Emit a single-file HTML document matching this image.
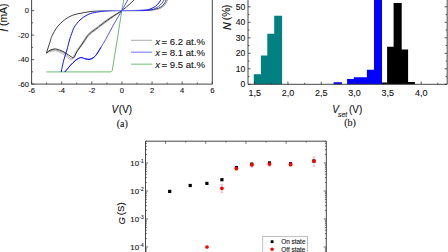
<!DOCTYPE html>
<html><head><meta charset="utf-8"><style>
html,body{margin:0;padding:0;background:#fff;width:448px;height:252px;overflow:hidden}
svg{display:block}
text{font-family:"Liberation Sans", sans-serif;fill:#111;stroke:#111;stroke-width:0.1px}
</style></head><body>
<svg width="448" height="252" viewBox="0 0 448 252">
<defs>
<linearGradient id="gb" gradientUnits="userSpaceOnUse" x1="0" y1="0" x2="448" y2="0">
<stop offset="0.2" stop-color="#0000ff"/><stop offset="0.215" stop-color="#0000ff"/><stop offset="0.245" stop-color="#5050ff"/><stop offset="0.27" stop-color="#8080ff"/><stop offset="0.295" stop-color="#6060ff"/><stop offset="0.32" stop-color="#2020ff"/><stop offset="0.34" stop-color="#0000ff"/>
</linearGradient>
<linearGradient id="gk" gradientUnits="userSpaceOnUse" x1="0" y1="0" x2="448" y2="0">
<stop offset="0.2" stop-color="#2a2a2a"/><stop offset="0.225" stop-color="#555"/><stop offset="0.265" stop-color="#999"/><stop offset="0.3" stop-color="#999"/><stop offset="0.33" stop-color="#777"/><stop offset="0.35" stop-color="#333"/>
</linearGradient>
</defs>
<path d="M31.6,-2 V84.1 H212.3 V-2" fill="none" stroke="#333" stroke-width="0.9"/>
<path d="M31.59,84.1 v-2.6 M46.65,84.1 v-1.5 M61.71,84.1 v-2.6 M76.77,84.1 v-1.5 M91.83,84.1 v-2.6 M106.89,84.1 v-1.5 M121.95,84.1 v-2.6 M137.01,84.1 v-1.5 M152.07,84.1 v-2.6 M167.13,84.1 v-1.5 M182.19,84.1 v-2.6 M197.25,84.1 v-1.5 M212.31,84.1 v-2.6 M31.6,84.10 h2.6 M31.6,71.85 h1.5 M31.6,59.60 h2.6 M31.6,47.35 h1.5 M31.6,35.10 h2.6 M31.6,22.85 h1.5 M31.6,10.60 h2.6 M31.6,-1.65 h1.5 M31.6,-13.90 h2.6" stroke="#333" stroke-width="0.8" fill="none"/>
<text x="28.9" y="13.30" text-anchor="end" font-size="7.6">0</text>
<text x="28.9" y="37.80" text-anchor="end" font-size="7.6">-20</text>
<text x="28.9" y="62.30" text-anchor="end" font-size="7.6">-40</text>
<text x="28.9" y="86.80" text-anchor="end" font-size="7.6">-60</text>
<text x="31.59" y="93.3" text-anchor="middle" font-size="7.6">-6</text>
<text x="61.71" y="93.3" text-anchor="middle" font-size="7.6">-4</text>
<text x="91.83" y="93.3" text-anchor="middle" font-size="7.6">-2</text>
<text x="121.95" y="93.3" text-anchor="middle" font-size="7.6">0</text>
<text x="152.07" y="93.3" text-anchor="middle" font-size="7.6">2</text>
<text x="182.19" y="93.3" text-anchor="middle" font-size="7.6">4</text>
<text x="212.31" y="93.3" text-anchor="middle" font-size="7.6">6</text>
<text transform="translate(7.6,30.4) rotate(-90)" text-anchor="middle" font-size="10.2" font-style="italic">I</text>
<text transform="translate(7.4,14.8) rotate(-90)" text-anchor="middle" font-size="10.4">(mA)</text>
<text x="111.4" y="113.1" font-size="10"><tspan font-style="italic">V</tspan><tspan dx="0.8">(V)</tspan></text>
<text x="122.3" y="126.6" text-anchor="middle" font-size="10" style="font-family:&quot;Liberation Serif&quot;,serif">(a)</text>
<path d="M46.40,71.90 L110.90,71.90 L112.20,70.60 L117.20,40.00 L121.80,10.60 L123.90,-1.00" fill="none" stroke="#4aa84a" stroke-width="0.8"/>
<path d="M121.80,10.60 C119.77,11.78 113.32,15.30 109.60,17.70 C105.88,20.10 101.60,23.45 99.50,25.00 C97.40,26.55 98.67,25.73 97.00,27.00 C95.33,28.27 91.32,31.02 89.50,32.60 C87.68,34.18 87.47,34.57 86.10,36.50 C84.73,38.43 83.02,41.72 81.30,44.20 C79.58,46.68 77.15,49.27 75.80,51.40 C74.45,53.53 73.87,55.63 73.20,57.00 C72.53,58.37 72.50,59.30 71.80,59.60 C71.10,59.90 70.13,59.48 69.00,58.80 C67.87,58.12 66.33,56.47 65.00,55.50 C63.67,54.53 62.33,53.72 61.00,53.00 C59.67,52.28 58.17,51.53 57.00,51.20 C55.83,50.87 55.17,50.93 54.00,51.00 C52.83,51.07 51.27,51.25 50.00,51.60 C48.73,51.95 47.00,52.85 46.40,53.10" fill="none" stroke="#b4b4b4" stroke-width="0.8"/>
<path d="M121.80,10.60 C119.90,11.98 113.95,16.30 110.40,18.90 C106.85,21.50 102.57,24.65 100.50,26.20 C98.43,27.75 99.63,26.93 98.00,28.20 C96.37,29.47 92.48,32.25 90.70,33.80 C88.92,35.35 88.63,35.75 87.30,37.50 C85.97,39.25 84.35,42.05 82.70,44.30 C81.05,46.55 78.77,49.02 77.40,51.00 C76.03,52.98 75.30,54.90 74.50,56.20 C73.70,57.50 73.35,58.50 72.60,58.80 C71.85,59.10 71.10,58.72 70.00,58.00 C68.90,57.28 67.33,55.50 66.00,54.50 C64.67,53.50 63.50,52.72 62.00,52.00 C60.50,51.28 58.33,50.53 57.00,50.20 C55.67,49.87 55.17,49.87 54.00,50.00 C52.83,50.13 51.27,50.48 50.00,51.00 C48.73,51.52 47.00,52.75 46.40,53.10" fill="none" stroke="#888" stroke-width="0.8"/>
<path d="M135.00,-1.00 C133.83,0.10 130.20,3.67 128.00,5.60 C125.80,7.53 124.80,8.48 121.80,10.60 C118.80,12.72 113.63,15.80 110.00,18.30 C106.37,20.80 102.08,24.05 100.00,25.60 C97.92,27.15 99.15,26.33 97.50,27.60 C95.85,28.87 91.90,31.63 90.10,33.20 C88.30,34.77 88.03,35.20 86.70,37.00 C85.37,38.80 83.62,41.75 82.10,44.00 C80.58,46.25 78.75,48.63 77.60,50.50 C76.45,52.37 75.83,54.02 75.20,55.20 C74.57,56.38 74.50,57.37 73.80,57.60 C73.10,57.83 72.30,57.32 71.00,56.60 C69.70,55.88 67.50,54.23 66.00,53.30 C64.50,52.37 63.50,51.68 62.00,51.00 C60.50,50.32 58.33,49.53 57.00,49.20 C55.67,48.87 55.17,48.83 54.00,49.00 C52.83,49.17 51.27,49.52 50.00,50.20 C48.73,50.88 47.00,52.62 46.40,53.10" fill="none" stroke="#222" stroke-width="0.9"/>
<path d="M46.40,53.10 C47.00,51.25 49.05,44.90 50.00,42.00 C50.95,39.10 50.92,38.18 52.10,35.70 C53.28,33.22 55.07,29.72 57.10,27.10 C59.13,24.48 61.78,21.95 64.30,20.00 C66.82,18.05 69.58,16.50 72.20,15.40 C74.82,14.30 77.03,14.03 80.00,13.40 C82.97,12.77 86.67,12.02 90.00,11.60 C93.33,11.18 96.67,11.05 100.00,10.90 C103.33,10.75 106.37,10.75 110.00,10.70 C113.63,10.65 116.80,10.65 121.80,10.60 C126.80,10.55 135.30,10.52 140.00,10.40 C144.70,10.28 147.33,10.13 150.00,9.90 C152.67,9.67 154.25,9.45 156.00,9.00 C157.75,8.55 159.17,8.03 160.50,7.20 C161.83,6.37 162.98,5.37 164.00,4.00 C165.02,2.63 166.17,-0.17 166.60,-1.00" fill="none" stroke="url(#gk)" stroke-width="0.9"/>
<path d="M123.10,10.90 C126.13,10.87 136.60,10.82 141.30,10.70 C146.00,10.58 148.63,10.43 151.30,10.20 C153.97,9.97 155.55,9.75 157.30,9.30 C159.05,8.85 160.47,8.33 161.80,7.50 C163.13,6.67 164.28,5.67 165.30,4.30 C166.32,2.93 167.47,0.13 167.90,-0.70" fill="none" stroke="#777" stroke-width="0.8"/>
<path d="M61.20,72.00 C61.63,70.00 62.85,63.67 63.80,60.00 C64.75,56.33 65.95,53.33 66.90,50.00 C67.85,46.67 68.70,42.75 69.50,40.00 C70.30,37.25 70.90,35.65 71.70,33.50 C72.50,31.35 72.92,29.35 74.30,27.10 C75.68,24.85 77.87,22.02 80.00,20.00 C82.13,17.98 84.72,16.23 87.10,15.00 C89.48,13.77 91.32,13.23 94.30,12.60 C97.28,11.97 100.42,11.53 105.00,11.20 C109.58,10.87 116.30,10.73 121.80,10.60 C127.30,10.47 133.80,10.52 138.00,10.40 C142.20,10.28 144.67,10.27 147.00,9.90 C149.33,9.53 150.58,8.82 152.00,8.20 C153.42,7.58 154.37,7.07 155.50,6.20 C156.63,5.33 157.83,4.20 158.80,3.00 C159.77,1.80 160.88,-0.33 161.30,-1.00" fill="none" stroke="url(#gb)" stroke-width="0.95"/>
<path d="M128.30,-1.00 C127.22,0.93 123.95,6.85 121.80,10.60 C119.65,14.35 117.25,18.27 115.40,21.50 C113.55,24.73 112.33,27.00 110.70,30.00 C109.07,33.00 107.23,36.60 105.60,39.50 C103.97,42.40 102.40,44.93 100.90,47.40 C99.40,49.87 97.88,52.57 96.60,54.30 C95.32,56.03 94.47,56.95 93.20,57.80 C91.93,58.65 90.45,59.27 89.00,59.40 C87.55,59.53 85.87,58.90 84.50,58.60 C83.13,58.30 82.27,57.33 80.80,57.60 C79.33,57.87 77.42,58.92 75.70,60.20 C73.98,61.48 71.87,63.87 70.50,65.30 C69.13,66.73 68.45,67.68 67.50,68.80 C66.55,69.92 65.25,71.47 64.80,72.00" fill="none" stroke="#1a1aff" stroke-width="0.75"/>
<path d="M100.90,47.40 C100.18,48.55 97.88,52.57 96.60,54.30 C95.32,56.03 94.47,56.95 93.20,57.80 C91.93,58.65 90.45,59.27 89.00,59.40 C87.55,59.53 85.87,58.90 84.50,58.60 C83.13,58.30 82.27,57.33 80.80,57.60 C79.33,57.87 77.42,58.92 75.70,60.20 C73.98,61.48 71.87,63.87 70.50,65.30 C69.13,66.73 68.45,67.68 67.50,68.80 C66.55,69.92 65.25,71.47 64.80,72.00" fill="none" stroke="#0000ff" stroke-width="0.9"/>
<path d="M141.20,10.60 C142.70,10.52 147.87,10.47 150.20,10.10 C152.53,9.73 153.78,9.02 155.20,8.40 C156.62,7.78 157.57,7.27 158.70,6.40 C159.83,5.53 161.03,4.40 162.00,3.20 C162.97,2.00 164.08,-0.13 164.50,-0.80" fill="none" stroke="url(#gb)" stroke-width="0.7"/>
<path d="M131,40.4 H152.2" stroke="#bdbdbd" stroke-width="1.3"/>
<text x="155.2" y="44.5" font-size="9.6"><tspan font-style="italic">x</tspan><tspan dx="-1.2"> = 6.2 at.%</tspan></text>
<path d="M131,52.2 H152.2" stroke="#8f8fff" stroke-width="1.3"/>
<text x="155.2" y="56.3" font-size="9.6"><tspan font-style="italic">x</tspan><tspan dx="-1.2"> = 8.1 at.%</tspan></text>
<path d="M131,64.2 H152.2" stroke="#94cc94" stroke-width="1.3"/>
<text x="155.2" y="68.3" font-size="9.6"><tspan font-style="italic">x</tspan><tspan dx="-1.2"> = 9.5 at.%</tspan></text>
<path d="M253.8,84.3 V74.22 H260.9 V55.62 H267.3 V33.77 H274.2 V15.64 H282.1 V84.3 Z" fill="#008080"/>
<path d="M333.6,84.3 V82.28 H341.9 V84.30 H347.1 V78.88 H353.8 V77.17 H366.9 V69.73 H374.0 V-24.20 H382.0 V84.3 Z" fill="#0000ff"/>
<path d="M382.0,84.3 V82.44 H387.1 V46.63 H393.6 V2.92 H401.7 V49.42 H408.1 V81.97 H414.9 V84.3 Z" fill="#000"/>
<path d="M248.0,-2 V84.3 H447.2 V-2" fill="none" stroke="#333" stroke-width="0.9"/>
<path d="M254.66,84.3 v-2.6 M271.31,84.3 v-1.5 M287.96,84.3 v-2.6 M304.61,84.3 v-1.5 M321.26,84.3 v-2.6 M337.91,84.3 v-1.5 M354.56,84.3 v-2.6 M371.21,84.3 v-1.5 M387.86,84.3 v-2.6 M404.51,84.3 v-1.5 M421.16,84.3 v-2.6 M437.81,84.3 v-1.5 M248.0,84.30 h2.6 M447.2,84.30 h-2.6 M248.0,76.55 h1.5 M447.2,76.55 h-1.5 M248.0,68.80 h2.6 M447.2,68.80 h-2.6 M248.0,61.05 h1.5 M447.2,61.05 h-1.5 M248.0,53.30 h2.6 M447.2,53.30 h-2.6 M248.0,45.55 h1.5 M447.2,45.55 h-1.5 M248.0,37.80 h2.6 M447.2,37.80 h-2.6 M248.0,30.05 h1.5 M447.2,30.05 h-1.5 M248.0,22.30 h2.6 M447.2,22.30 h-2.6 M248.0,14.55 h1.5 M447.2,14.55 h-1.5 M248.0,6.80 h2.6 M447.2,6.80 h-2.6 M248.0,-0.95 h1.5 M447.2,-0.95 h-1.5" stroke="#333" stroke-width="0.8" fill="none"/>
<text x="245.2" y="87.40" text-anchor="end" font-size="8.6">0</text>
<text x="245.2" y="71.90" text-anchor="end" font-size="8.6">10</text>
<text x="245.2" y="56.40" text-anchor="end" font-size="8.6">20</text>
<text x="245.2" y="40.90" text-anchor="end" font-size="8.6">30</text>
<text x="245.2" y="25.40" text-anchor="end" font-size="8.6">40</text>
<text x="245.2" y="9.90" text-anchor="end" font-size="8.6">50</text>
<text x="254.66" y="95.8" text-anchor="middle" font-size="9">1,5</text>
<text x="287.96" y="95.8" text-anchor="middle" font-size="9">2,0</text>
<text x="321.26" y="95.8" text-anchor="middle" font-size="9">2,5</text>
<text x="354.56" y="95.8" text-anchor="middle" font-size="9">3,0</text>
<text x="387.86" y="95.8" text-anchor="middle" font-size="9">3,5</text>
<text x="421.16" y="95.8" text-anchor="middle" font-size="9">4,0</text>
<text transform="translate(230.5,26.2) rotate(-90)" text-anchor="middle" font-size="10.6" font-style="italic">N</text>
<text transform="translate(230.3,12.4) rotate(-90)" text-anchor="middle" font-size="10">(%)</text>
<text x="332.3" y="112.7" font-size="10"><tspan font-style="italic">V</tspan><tspan font-style="italic" font-size="6.8" dy="4.0" dx="-0.9">set</tspan><tspan dy="-4.0" dx="-1.0"> (V)</tspan></text>
<text x="350.1" y="126.4" text-anchor="middle" font-size="10" style="font-family:&quot;Liberation Serif&quot;,serif">(b)</text>
<path d="M145.5,254 V141.2 H326.3 V254" fill="none" stroke="#333" stroke-width="0.9"/>
<path d="M165.59,141.2 v2.6 M185.68,141.2 v1.4 M205.77,141.2 v2.6 M225.86,141.2 v1.4 M245.94,141.2 v2.6 M266.03,141.2 v1.4 M286.12,141.2 v2.6 M306.21,141.2 v1.4 M145.5,163.00 h2.6 M326.3,163.00 h-2.6 M145.5,154.57 h1.4 M326.3,154.57 h-1.4 M145.5,149.64 h1.4 M326.3,149.64 h-1.4 M145.5,146.14 h1.4 M326.3,146.14 h-1.4 M145.5,143.43 h1.4 M326.3,143.43 h-1.4 M145.5,141.21 h1.4 M326.3,141.21 h-1.4 M145.5,191.00 h2.6 M326.3,191.00 h-2.6 M145.5,182.57 h1.4 M326.3,182.57 h-1.4 M145.5,177.64 h1.4 M326.3,177.64 h-1.4 M145.5,174.14 h1.4 M326.3,174.14 h-1.4 M145.5,171.43 h1.4 M326.3,171.43 h-1.4 M145.5,169.21 h1.4 M326.3,169.21 h-1.4 M145.5,167.34 h1.4 M326.3,167.34 h-1.4 M145.5,165.71 h1.4 M326.3,165.71 h-1.4 M145.5,164.28 h1.4 M326.3,164.28 h-1.4 M145.5,219.00 h2.6 M326.3,219.00 h-2.6 M145.5,210.57 h1.4 M326.3,210.57 h-1.4 M145.5,205.64 h1.4 M326.3,205.64 h-1.4 M145.5,202.14 h1.4 M326.3,202.14 h-1.4 M145.5,199.43 h1.4 M326.3,199.43 h-1.4 M145.5,197.21 h1.4 M326.3,197.21 h-1.4 M145.5,195.34 h1.4 M326.3,195.34 h-1.4 M145.5,193.71 h1.4 M326.3,193.71 h-1.4 M145.5,192.28 h1.4 M326.3,192.28 h-1.4 M145.5,247.00 h2.6 M326.3,247.00 h-2.6 M145.5,238.57 h1.4 M326.3,238.57 h-1.4 M145.5,233.64 h1.4 M326.3,233.64 h-1.4 M145.5,230.14 h1.4 M326.3,230.14 h-1.4 M145.5,227.43 h1.4 M326.3,227.43 h-1.4 M145.5,225.21 h1.4 M326.3,225.21 h-1.4 M145.5,223.34 h1.4 M326.3,223.34 h-1.4 M145.5,221.71 h1.4 M326.3,221.71 h-1.4 M145.5,220.28 h1.4 M326.3,220.28 h-1.4 M145.5,251.34 h1.4 M326.3,251.34 h-1.4 M145.5,249.71 h1.4 M326.3,249.71 h-1.4 M145.5,248.28 h1.4 M326.3,248.28 h-1.4" stroke="#333" stroke-width="0.7" fill="none"/>
<text x="130.3" y="166.40" font-size="7.9">10<tspan font-size="4.8" dy="-3.5" dx="0.2">-1</tspan></text>
<text x="130.3" y="194.40" font-size="7.9">10<tspan font-size="4.8" dy="-3.5" dx="0.2">-2</tspan></text>
<text x="130.3" y="222.40" font-size="7.9">10<tspan font-size="4.8" dy="-3.5" dx="0.2">-3</tspan></text>
<text x="130.3" y="250.40" font-size="7.9">10<tspan font-size="4.8" dy="-3.5" dx="0.2">-4</tspan></text>
<text transform="translate(124.6,220.8) rotate(-90)" text-anchor="middle" font-size="9.4" font-style="italic">G</text>
<text transform="translate(124.3,208.8) rotate(-90)" text-anchor="middle" font-size="9.6">(S)</text>
<path d="M221.9,184.8 V192.3 M220.6,184.8 h2.6 M220.6,192.3 h2.6" stroke="#ff7070" stroke-width="0.55" fill="none"/>
<path d="M236.4,166.5 V170.5 M235.1,166.5 h2.6 M235.1,170.5 h2.6" stroke="#ff7070" stroke-width="0.55" fill="none"/>
<path d="M251.8,162.5 V167.2 M250.5,162.5 h2.6 M250.5,167.2 h2.6" stroke="#ff7070" stroke-width="0.55" fill="none"/>
<path d="M269.5,161.8 V166.3 M268.2,161.8 h2.6 M268.2,166.3 h2.6" stroke="#ff7070" stroke-width="0.55" fill="none"/>
<path d="M290.6,162.3 V166.5 M289.3,162.3 h2.6 M289.3,166.5 h2.6" stroke="#ff7070" stroke-width="0.55" fill="none"/>
<path d="M313.9,156.9 V166.2 M312.59999999999997,156.9 h2.6 M312.59999999999997,166.2 h2.6" stroke="#ff7070" stroke-width="0.55" fill="none"/>
<rect x="168.10" y="189.80" width="3.2" height="3.2" fill="#000"/>
<rect x="188.60" y="183.90" width="3.2" height="3.2" fill="#000"/>
<rect x="205.30" y="181.80" width="3.2" height="3.2" fill="#000"/>
<rect x="220.30" y="178.10" width="3.2" height="3.2" fill="#000"/>
<rect x="234.80" y="166.00" width="3.2" height="3.2" fill="#000"/>
<rect x="250.20" y="162.60" width="3.2" height="3.2" fill="#000"/>
<rect x="267.90" y="161.40" width="3.2" height="3.2" fill="#000"/>
<rect x="289.00" y="162.20" width="3.2" height="3.2" fill="#000"/>
<rect x="312.30" y="159.40" width="3.2" height="3.2" fill="#000"/>
<circle cx="207" cy="247" r="1.85" fill="#ff0000"/>
<circle cx="221.9" cy="188.3" r="1.85" fill="#ff0000"/>
<circle cx="236.4" cy="168.5" r="1.85" fill="#ff0000"/>
<circle cx="251.8" cy="164.8" r="1.85" fill="#ff0000"/>
<circle cx="269.5" cy="164.1" r="1.85" fill="#ff0000"/>
<circle cx="290.6" cy="164.4" r="1.85" fill="#ff0000"/>
<circle cx="313.9" cy="161.1" r="1.85" fill="#ff0000"/>
<rect x="262.8" y="236.6" width="44.6" height="20" fill="#fff" stroke="#999" stroke-width="0.6"/>
<rect x="270.7" y="240.3" width="2.8" height="2.8" fill="#000"/>
<text x="281.3" y="243.9" font-size="6.4">On state</text>
<circle cx="272.1" cy="249.3" r="1.7" fill="#ff0000"/>
<text x="281.3" y="251.6" font-size="6.4">Off state</text>
</svg>
</body></html>
